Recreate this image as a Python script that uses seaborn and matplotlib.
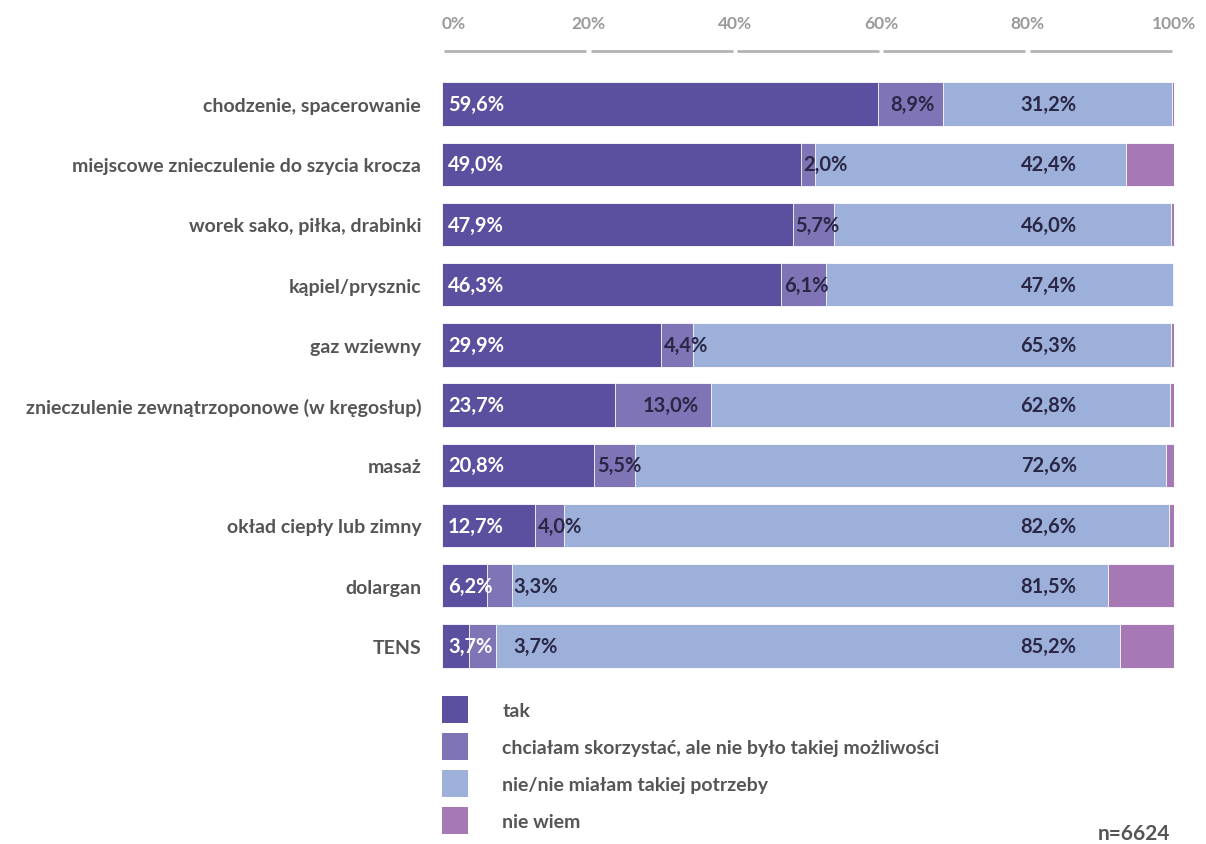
import pandas as pd
import seaborn as sns
import matplotlib.pyplot as plt
from matplotlib.patches import Patch

# dane
kategorie = ['chodzenie, spacerowanie',
             'miejscowe znieczulenie do szycia krocza',
             'worek sako, piłka, drabinki',
             'kąpiel/prysznic',
             'gaz wziewny',
             'znieczulenie zewnątrzoponowe (w kręgosłup)',
             'masaż',
             'okład ciepły lub zimny',
             'dolargan',
             'TENS']
tak = [59.6, 49.0, 47.9, 46.3, 29.9, 23.7, 20.8, 12.7, 6.2, 3.7]
chcialam = [8.9, 2.0, 5.7, 6.1, 4.4, 13.0, 5.5, 4.0, 3.3, 3.7]
nie = [31.2, 42.4, 46.0, 47.4, 65.3, 62.8, 72.6, 82.6, 81.5, 85.2]
nie_wiem = [0.3, 6.6, 0.4, 0.2, 0.4, 0.5, 1.1, 0.7, 9.0, 7.4]

serie = ['tak', 'chciałam skorzystać, ale nie było takiej możliwości',
         'nie/nie miałam takiej potrzeby', 'nie wiem']
kolory = ['#5b4f9f', '#7f74b6', '#9cb0da', '#a679b4']
ticki = [0, 20, 40, 60, 80, 100]

df = pd.DataFrame({'kat': kategorie, 'tak': tak, 'chc': chcialam,
                   'nie': nie, 'nw': nie_wiem})
df['c1'] = df['tak']
df['c2'] = df['c1'] + df['chc']
df['c3'] = df['c2'] + df['nie']
df['c4'] = df['c3'] + df['nw']

sns.set_style('white')
plt.rcParams['font.family'] = ['Lato', 'DejaVu Sans']
plt.rcParams['font.weight'] = 'bold'

fig = plt.figure(figsize=(12.06, 8.45), dpi=100)
ax = fig.add_axes([442 / 1206, 1 - 677 / 845, 732 / 1206, 602 / 845])

# słupki skumulowane - rysowane od końca
for col, kolor in zip(['c4', 'c3', 'c2', 'c1'], kolory[::-1]):
    sns.barplot(data=df, x=col, y='kat', order=kategorie, color=kolor,
                saturation=1, width=0.72, edgecolor='white', linewidth=0.6,
                ax=ax)

ax.set_xlim(0, 100)
ax.set_ylim(len(kategorie) - 0.5, -0.5)
ax.set_xlabel('')
ax.set_ylabel('')
sns.despine(ax=ax, left=True, bottom=True)

# oś górna
ax.xaxis.set_ticks_position('top')
ax.set_xticks(ticki)
ax.set_xticklabels([f'{t}%' for t in ticki], color='#9a9a9a', fontsize=12.5,
                   fontweight='bold')
ax.tick_params(axis='x', length=0, pad=31)
ax.get_xticklabels()[0].set_ha('left')
for t in ticki[:-1]:
    ax.plot([t + 0.3, t + 19.7], [1.038, 1.038], color='#b3b3b3', lw=2,
            transform=ax.get_xaxis_transform(), clip_on=False,
            solid_capstyle='butt')

ax.set_yticks(range(len(kategorie)))
ax.set_yticklabels(kategorie, fontsize=14, fontweight='bold', color='#555555')
ax.tick_params(axis='y', length=0, pad=15)

# etykiety wartości
for i, r in df.iterrows():
    ax.text(0.8, i, f"{r['tak']:.1f}%".replace('.', ','), fontweight='bold',
            color='white', fontsize=14.5, va='center', ha='left')
    x2 = max(r['tak'] + r['chc'] / 2 - 2.8, r['tak'] + 0.4, 9.8)
    ax.text(x2, i, f"{r['chc']:.1f}%".replace('.', ','), fontweight='bold',
            color='#2a2645', fontsize=14.5, va='center', ha='left')
    ax.text(86.7, i, f"{r['nie']:.1f}%".replace('.', ','), fontweight='bold',
            color='#2a2645', fontsize=14.5, va='center', ha='right')

# legenda
uchwyty = [Patch(facecolor=k, edgecolor='none') for k in kolory]
leg = fig.legend(uchwyty, serie, loc='upper left',
                 bbox_to_anchor=(442 / 1206, 1 - 697 / 845),
                 frameon=False, fontsize=14, borderpad=0, borderaxespad=0,
                 handlelength=1.35, handleheight=1.75, handletextpad=1.75,
                 labelspacing=0.52)
for t in leg.get_texts():
    t.set_color('#555555')
    t.set_fontweight('bold')

fig.text(1170 / 1206, 1 - 834 / 845, 'n=6624', ha='right', va='center',
         color='#555555', fontsize=15, fontweight='bold')

plt.savefig('out.png', dpi=100)
